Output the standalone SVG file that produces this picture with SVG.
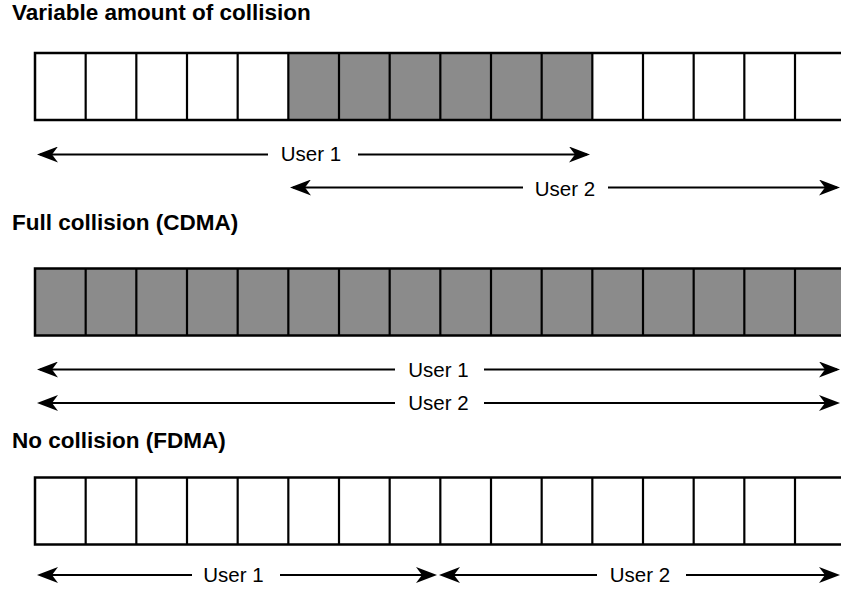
<svg xmlns="http://www.w3.org/2000/svg" width="841" height="590" viewBox="0 0 841 590">
  <style>
    .title { font-family: "Liberation Sans", Arial, sans-serif; font-weight: bold; font-size: 22.5px; fill: #000; }
    .label { font-family: "Liberation Sans", Arial, sans-serif; font-size: 20.5px; fill: #000; text-anchor: middle; }
    .frame { fill: none; stroke: #000; stroke-width: 2.5; }
    .div { stroke: #000; stroke-width: 2.2; }
    .on { fill: #8b8b8b; }
    .off { fill: #fff; }
    .arrow { stroke: #000; stroke-width: 2.2; fill: none; }
  </style>
  <defs>
    <marker id="head" markerUnits="userSpaceOnUse" viewBox="0 0 21 16" markerWidth="21" markerHeight="16" refX="18" refY="8" orient="auto-start-reverse">
      <path d="M21,8 L0,0 L6,8 L0,16 Z" fill="#000"/>
    </marker>
    <!-- vertical slot dividers, cell pitch 50.67 -->
    <g id="dividers">
      <line class="div" x1="85.67" y1="0" x2="85.67" y2="67"/>
      <line class="div" x1="136.33" y1="0" x2="136.33" y2="67"/>
      <line class="div" x1="187" y1="0" x2="187" y2="67"/>
      <line class="div" x1="237.67" y1="0" x2="237.67" y2="67"/>
      <line class="div" x1="288.33" y1="0" x2="288.33" y2="67"/>
      <line class="div" x1="339" y1="0" x2="339" y2="67"/>
      <line class="div" x1="389.67" y1="0" x2="389.67" y2="67"/>
      <line class="div" x1="440.33" y1="0" x2="440.33" y2="67"/>
      <line class="div" x1="491" y1="0" x2="491" y2="67"/>
      <line class="div" x1="541.67" y1="0" x2="541.67" y2="67"/>
      <line class="div" x1="592.33" y1="0" x2="592.33" y2="67"/>
      <line class="div" x1="643" y1="0" x2="643" y2="67"/>
      <line class="div" x1="693.67" y1="0" x2="693.67" y2="67"/>
      <line class="div" x1="744.33" y1="0" x2="744.33" y2="67"/>
      <line class="div" x1="795" y1="0" x2="795" y2="67"/>
    </g>
  </defs>

  <rect width="841" height="590" fill="#fff"/>

  <!-- Variable amount of collision -->
  <g id="variable">
    <text class="title" x="12" y="20">Variable amount of collision</text>
    <g transform="translate(0,53)">
      <rect class="off" x="35" y="0" width="820" height="67"/>
      <rect class="on" x="288.33" y="0" width="304" height="67"/>
      <use href="#dividers"/>
      <rect class="frame" x="35" y="0" width="820" height="67"/>
    </g>
  </g>

  <!-- Full collision (CDMA) -->
  <g id="cdma">
    <text class="title" x="12" y="230">Full collision (CDMA)</text>
    <g transform="translate(0,268.5)">
      <rect class="on" x="35" y="0" width="820" height="67"/>
      <use href="#dividers"/>
      <rect class="frame" x="35" y="0" width="820" height="67"/>
    </g>
  </g>

  <!-- No collision (FDMA) -->
  <g id="fdma">
    <text class="title" x="12" y="448">No collision (FDMA)</text>
    <g transform="translate(0,477.5)">
      <rect class="off" x="35" y="0" width="820" height="67"/>
      <use href="#dividers"/>
      <rect class="frame" x="35" y="0" width="820" height="67"/>
    </g>
  </g>

  <!-- user span arrows -->
  <g id="connectors">
    <line class="arrow" x1="40" y1="154.5" x2="268" y2="154.5" marker-start="url(#head)"/>
    <line class="arrow" x1="358" y1="154.5" x2="587" y2="154.5" marker-end="url(#head)"/>
    <line class="arrow" x1="293" y1="187.5" x2="523" y2="187.5" marker-start="url(#head)"/>
    <line class="arrow" x1="608" y1="187.5" x2="837" y2="187.5" marker-end="url(#head)"/>

    <line class="arrow" x1="40" y1="369.5" x2="395" y2="369.5" marker-start="url(#head)"/>
    <line class="arrow" x1="484" y1="369.5" x2="837" y2="369.5" marker-end="url(#head)"/>
    <line class="arrow" x1="40" y1="403" x2="395" y2="403" marker-start="url(#head)"/>
    <line class="arrow" x1="484" y1="403" x2="837" y2="403" marker-end="url(#head)"/>

    <line class="arrow" x1="40" y1="575" x2="192" y2="575" marker-start="url(#head)"/>
    <line class="arrow" x1="280" y1="575" x2="434" y2="575" marker-end="url(#head)"/>
    <line class="arrow" x1="442" y1="575" x2="597" y2="575" marker-start="url(#head)"/>
    <line class="arrow" x1="686" y1="575" x2="837" y2="575" marker-end="url(#head)"/>
  </g>

  <g id="labels">
    <text class="label" x="311" y="161">User 1</text>
    <text class="label" x="565" y="196">User 2</text>
    <text class="label" x="438.5" y="377">User 1</text>
    <text class="label" x="438.5" y="410">User 2</text>
    <text class="label" x="233.5" y="582">User 1</text>
    <text class="label" x="640" y="582">User 2</text>
  </g>
</svg>
